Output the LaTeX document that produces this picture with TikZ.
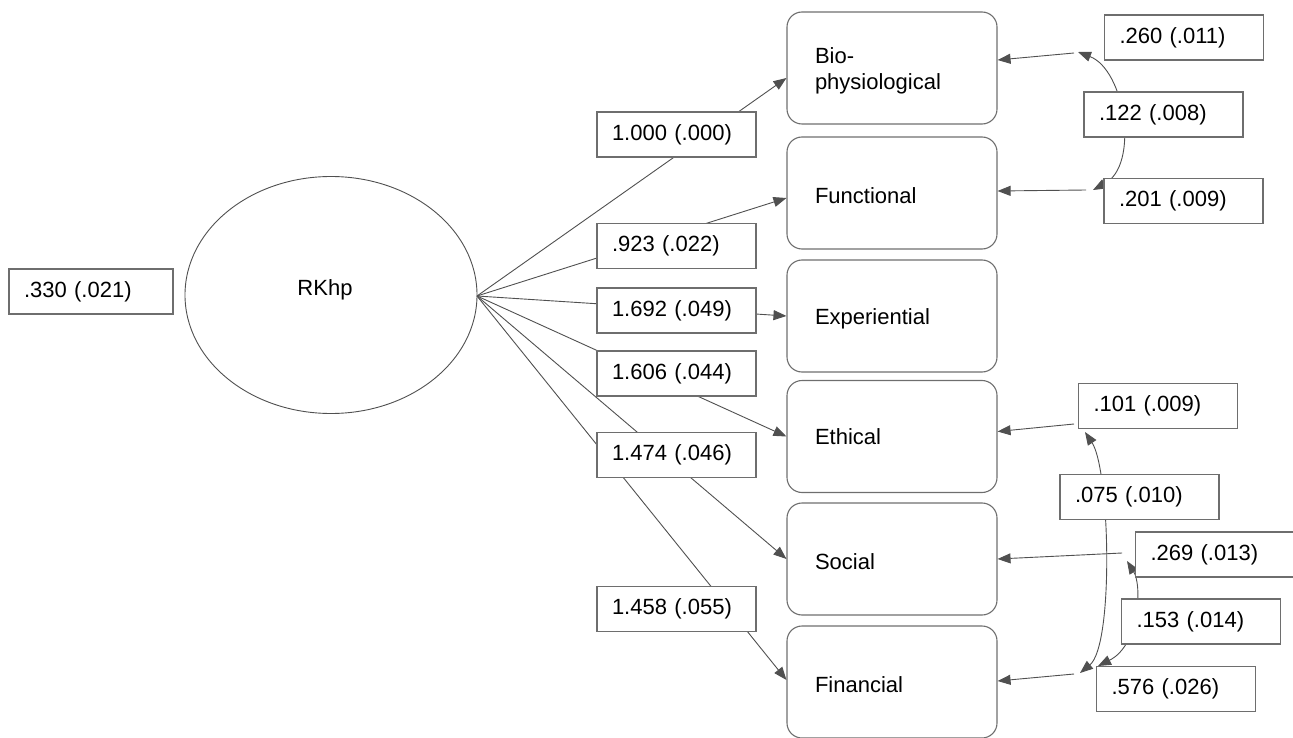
\documentclass[tikz,border=0pt]{standalone}
\usepackage{fontspec}
\setmainfont{Liberation Sans}
\usetikzlibrary{arrows.meta,calc,shapes.geometric}
\definecolor{lnc}{RGB}{80,80,80}
\definecolor{bxc}{RGB}{110,110,110}
\newcommand{\dn}{\rule{0pt}{22pt}}
\begin{document}
\begin{tikzpicture}[x=1pt,y=-1pt,
  every node/.style={font=\fontsize{22}{26}\selectfont},
  obsbox/.style={draw=bxc,line width=1.1pt,rounded corners=15pt,minimum width=210pt,minimum height=112pt,text width=154pt,inner xsep=28pt,inner ysep=0pt,align=left},
  valbox/.style={draw=bxc,line width=1.1pt,fill=white,minimum width=159pt,minimum height=45pt,text width=129pt,inner xsep=15pt,inner ysep=0pt,align=left},
  arr/.style={draw=lnc,line width=0.9pt,-{Triangle[length=13pt,width=10pt]}},
  dbl/.style={draw=lnc,line width=0.9pt,{Triangle[length=13pt,width=10pt]}-{Triangle[length=13pt,width=10pt]}}]
\useasboundingbox (0,0) rectangle (1293,738);
% latent
\node[draw=lnc,line width=0.9pt,ellipse,minimum width=292pt,minimum height=237pt,inner sep=0pt] (rk) at (331,295) {};
\node (rkt) at (325,290) {RKhp};
\coordinate (apex) at (477,296);
% observed
\node[obsbox] (bio) at (892,68) {\dn Bio-\\physiological};
\node[obsbox] (fun) at (892,193) {\dn Functional};
\node[obsbox] (exp) at (892,316) {\dn Experiential};
\node[obsbox] (eth) at (892,436.5) {Ethical};
\node[obsbox] (soc) at (892,559) {\dn Social};
\node[obsbox] (fin) at (892,682) {\dn Financial};
% loadings
\draw[arr] (apex) -- ($(bio.west)+(0,10)$);
\draw[arr] (apex) -- ($(fun.west)+(0,5)$);
\draw[arr] (apex) -- (exp.west);
\draw[arr] (apex) -- (eth.west);
\draw[arr] (apex) -- ($(soc.west)+(0,0)$);
\draw[arr] (apex) -- ($(fin.west)+(0,-2)$);
\node[valbox] (l1) at (676.5,134.5) {1.000 (.000)};
\node[valbox] (l2) at (676.5,246) {.923 (.022)};
\node[valbox] (l3) at (676.5,310.5) {1.692 (.049)};
\node[valbox] (l4) at (676.5,373.5) {1.606 (.044)};
\node[valbox] (l5) at (676.5,455) {1.474 (.046)};
\node[valbox] (l6) at (676.5,609) {1.458 (.055)};
\node[valbox,minimum width=164pt,text width=134pt] (lv) at (91,291.5) {.330 (.021)};
% error terms
\coordinate (e1) at (1074,53);
\coordinate (e2) at (1086,190);
\coordinate (e3) at (1074,424);
\coordinate (e4) at (1122,553);
\coordinate (e5) at (1074,674);
\draw[arr] (e1) -- ($(bio.east)+(0,-8)$);
\draw[arr] (e2) -- ($(fun.east)+(0,-2)$);
\draw[arr] (e3) -- ($(eth.east)+(0,-5)$);
\draw[arr] (e4) -- ($(soc.east)+(0,0)$);
\draw[arr] (e5) -- ($(fin.east)+(0,-1)$);
% covariances
\coordinate (c1a) at (1078,52);
\coordinate (c1b) at (1093,190);
\coordinate (c2a) at (1085,432);
\coordinate (c2b) at (1080,673);
\coordinate (c3a) at (1127,561);
\coordinate (c3b) at (1098,666);
\draw[dbl] (c1a) .. controls (1125,70) and (1140,165) .. (c1b);
\draw[dbl] (c2a) .. controls (1110,470) and (1114,645) .. (c2b);
\draw[dbl] (c3a) .. controls (1142,585) and (1140,645) .. (c3b);
% value labels
\node[valbox] (r1) at (1184,37.5) {.260 (.011)};
\node[valbox] (r2) at (1163.5,114.5) {.122 (.008)};
\node[valbox] (r3) at (1183.5,201) {.201 (.009)};
\node[valbox] (r4) at (1158,406) {.101 (.009)};
\node[valbox] (r5) at (1139.5,497) {.075 (.010)};
\node[valbox] (r6) at (1215,554.5) {.269 (.013)};
\node[valbox] (r7) at (1201,621.5) {.153 (.014)};
\node[valbox] (r8) at (1176,689) {.576 (.026)};
\end{tikzpicture}
\end{document}
